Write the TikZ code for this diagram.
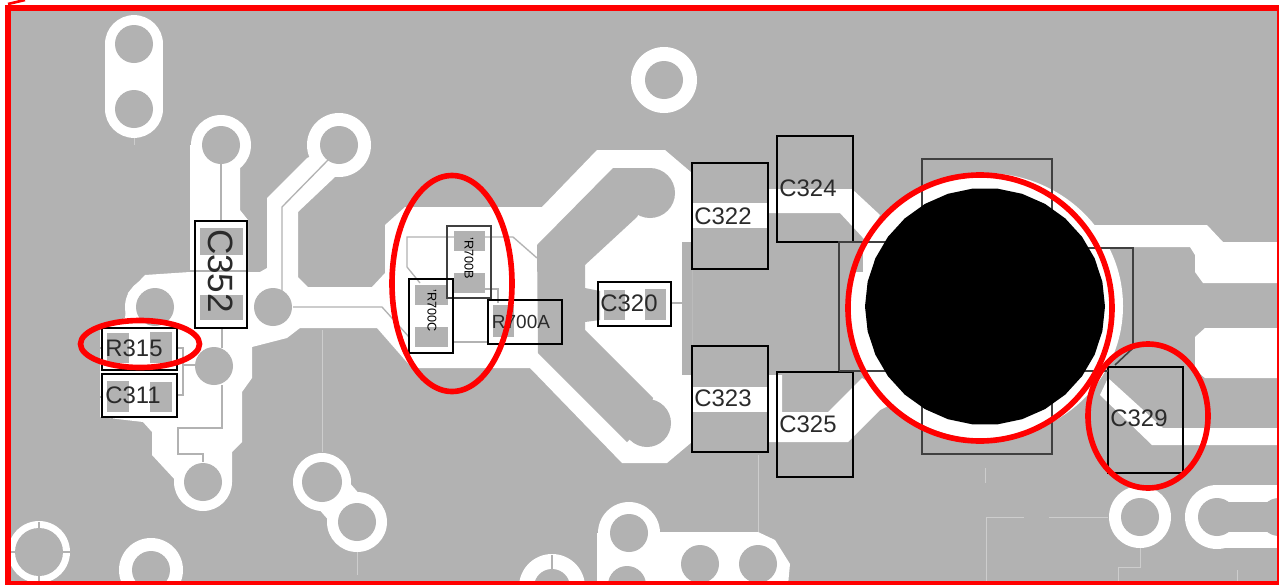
\documentclass[tikz,border=0pt]{standalone}
\usepackage{fontspec}
\setmainfont{Liberation Sans}
\definecolor{pcb}{HTML}{B2B2B2}
\definecolor{seam}{HTML}{CDCDCD}
\definecolor{redm}{HTML}{FF0000}
\definecolor{ink}{HTML}{2A2A2A}
\tikzset{
  hole/.style={fill=pcb,draw=none},
  wire/.style={draw=pcb,line width=0.75pt,fill=none},
  faint/.style={draw=seam,line width=0.55pt,fill=none},
  part/.style={draw=black,line width=1.15pt,fill=none},
  outl/.style={draw=black!75,line width=0.9pt,fill=none},
  ring/.style={draw=redm,line width=3.2pt,fill=none},
  lab/.style={text=ink,inner sep=0pt,font=\fontsize{13.6pt}{15pt}\selectfont},
  labm/.style={text=ink,inner sep=0pt,font=\fontsize{10.8pt}{12pt}\selectfont},
  labs/.style={text=black,inner sep=0pt,rotate=-90,font=\fontsize{7.2pt}{8pt}\selectfont},
  labb/.style={text=ink,inner sep=0pt,rotate=-90,font=\fontsize{20pt}{22pt}\selectfont}
}
\begin{document}
\begin{tikzpicture}[x=0.02cm,y=-0.02cm]
\useasboundingbox (0,0) rectangle (1279,585);
\fill[white] (0,0) rectangle (1279,585);
\fill[pcb] (7,5) rectangle (1278,585);

% top-left slotted pair
\draw[white,line width=32.9pt,line cap=round] (134,44) -- (134,109);
% bottom-left pair
\draw[white,line width=23pt] (322,482) -- (357,522);

% main copper
\fill[white] (128,293) -- (145,275) -- (190,272) -- (190,145) -- (240,145) -- (240,173)
  -- (240,210) -- (248,220) -- (248,272) -- (260,272) -- (267,268) -- (267,198) -- (307,158)
  -- (339,145) -- (335,177) -- (298,212) -- (298,277) -- (308,287) -- (372,287) -- (385,273)
  -- (385,225) -- (405,207) -- (542,207) -- (597,150) -- (665,150) -- (692,173)
  -- (692,442) -- (667,463) -- (622,463) -- (530,368) -- (412,368) -- (377,328) -- (300,328)
  -- (287,338) -- (252,347) -- (252,378) -- (242,392) -- (242,442) -- (232,452) -- (232,482)
  -- (203,500) -- (177,482) -- (152,455) -- (152,432) -- (143,422) -- (100,417) -- (100,330)
  -- (125,318) -- cycle;

% bands to the capacitors
\fill[white] (692,203) rectangle (768,228);
\fill[white] (692,387) rectangle (768,412);
\fill[white] (768,205) -- (768,189) -- (852,189) -- (880,215) -- (865,240) -- (840,213) -- (768,213) -- cycle;
\fill[white] (768,375) -- (782,375) -- (782,412) -- (828,412) -- (862,378) -- (900,400) -- (880,410) -- (848,442) -- (768,442) -- cycle;

% right-hand copper
\fill[white] (1085,225) -- (1207,225) -- (1223,242) -- (1277,242) -- (1277,283) -- (1203,283) -- (1195,272) -- (1195,255) -- (1190,247) -- (1085,247) -- cycle;
\fill[white] (1205,328) -- (1277,328) -- (1277,378) -- (1205,378) -- (1195,370) -- (1195,337) -- cycle;
\fill[white] (1108,378) -- (1163,428) -- (1277,428) -- (1277,445) -- (1152,445) -- (1100,395) -- cycle;

% bottom copper
\fill[white] (597,585) -- (597,533) -- (629,533) -- (659,532) -- (758,532) -- (775,540) -- (790,564) -- (788,585) -- cycle;
\fill[white] (1217,485) rectangle (1277,548);

% annular rings
\foreach \cx/\cy/\r in {221/145/30,339/145/32,155/307/30,273/307/28,214/366/28,203/482/29,
    39/552/31,151/570/32,322/482/29,357/522/30,664/80/33,629/533/31,552/587/33,1140/517/31,1217/517/32}
  \fill[white] (\cx,\cy) circle[radius=\r];

% grey fingers and block
\fill[pcb] (537,245) -- (613,168) -- (650,168) -- (650,193) -- (637,217) -- (585,265) -- (585,288)
  -- (600,291) -- (600,320) -- (585,322) -- (585,330) -- (653,398) -- (647,423) -- (627,442) -- (538,353) -- cycle;
\fill[pcb] (650,193) circle[radius=25];
\fill[pcb] (647,423) circle[radius=24];
\fill[pcb] (682,242) rectangle (692,375);

% white halo of the hole
\fill[white] (985,306) ellipse[x radius=138,y radius=133];
\fill[pcb] (839,242) rectangle (863,272);

% thin traces
\draw[wire] (221,163) -- (221,221);
\draw[wire] (188,271) -- (248,271);
\draw[wire] (328,160) -- (282,207) -- (282,295);
\draw[wire] (293,307) -- (382,307) -- (409,337);
\draw[wire] (222,328) -- (222,348);
\draw[wire] (222,385) -- (222,428) -- (178,428) -- (178,454) -- (203,454) -- (203,462);
\draw[wire] (177,348) -- (183,348) -- (183,395) -- (177,395);
\draw[wire] (183,365) -- (197,365);
\draw[wire] (93,348) -- (102,348);
\draw[wire] (95,397) -- (102,397);
\draw[wire] (112,417) -- (112,423);
\draw[wire] (420,283) -- (407,267) -- (407,237) -- (513,237) -- (537,258);
\draw[wire] (453,289) -- (498,289) -- (498,303);
\draw[wire] (453,342) -- (488,342);
\draw[wire] (671,303) -- (682,303);
\draw[wire] (39,522) -- (39,528);
\draw[wire] (39,576) -- (39,583);
\draw[wire] (9,552) -- (15,552);
\draw[wire] (63,552) -- (70,552);
\draw[wire] (552,555) -- (552,570);
\draw[wire] (1172,517) -- (1185,517);

% faint seams on the ground
\draw[faint] (322,330) -- (322,452);
\draw[faint] (357,552) -- (357,575);
\draw[faint] (134,138) -- (134,145);
\draw[faint] (758,455) -- (758,532);
\draw[faint] (985,468) -- (985,483);
\draw[faint] (1024,517) -- (986,517) -- (986,583);
\draw[faint] (1049,517) -- (1108,517);
\draw[faint] (1140,548) -- (1140,567) -- (1118,567) -- (1118,583);
\draw[faint] (1237,570) -- (1237,583);

% via holes
\foreach \cx/\cy/\r in {134/44/19,134/109/19,221/145/19,339/145/19,155/307/19,273/307/19,214/366/19,203/482/19,
    39/552/24,151/570/19,322/482/20,357/522/19,664/80/19,629/533/19,627/585/19,700/564/19,758/564/19,
    552/587/18,1140/517/19,1217/517/19,1279/517/19}
  \fill[hole] (\cx,\cy) circle[radius=\r];
\fill[hole] (1217,502) rectangle (1278,532);

% pads
\foreach \xa/\ya/\xb/\yb in {200/228/243/255,200/295/243/320,107/333/129/363,150/332/172/363,
    107/381/129/412,150/382/172/412,454/231/485/251,454/273/485/293,415/285/448/305,415/327/448/347,
    493/305/514/337,604/290/625/320,645/289/666/320}
  \fill[hole] (\xa,\ya) rectangle (\xb,\yb);

% part outlines
\draw[part] (195,221) rectangle (247,328);
\draw[part] (102,328) rectangle (177,370);
\draw[part] (102,374) rectangle (177,417);
\draw[outl] (447,226) rectangle (491,298);
\draw[part] (409,279) rectangle (453,353);
\draw[part] (488,300) rectangle (562,344);
\draw[part] (598,282) rectangle (671,326);
\draw[part] (692,163) rectangle (768,269);
\draw[part] (692,346) rectangle (768,452);
\draw[part] (777,136) rectangle (853,242);
\draw[part] (777,372) rectangle (853,477);
\draw[part] (1108,367) rectangle (1183,473);
\draw[outl] (922,159) rectangle (1052,454);
\draw[outl] (839,371) -- (839,242) -- (985,242);
\draw[outl] (985,248) -- (1133,248) -- (1133,348) -- (1115,365);
\draw[outl] (839,371) -- (1108,371);

% labels
\node[labb] (c352) at (221,271) {C352};
\node[lab] (r315) at (134,348) {R315};
\node[lab] (c311) at (133,395) {C311};
\node[labs] (r700b) at (469,258) {'R700B};
\node[labs] (r700c) at (432,311) {'R700C};
\node[labm] (r700a) at (521,322) {R700A};
\node[lab] (c320) at (629,303) {C320};
\node[lab] (c322) at (723,216) {C322};
\node[lab] (c323) at (723,398) {C323};
\node[lab] (c324) at (808,188) {C324};
\node[lab] (c325) at (808,424) {C325};
\node[lab] (c329) at (1139,418) {C329};

% the black blob
\fill[black] plot[domain=0:360,samples=31,variable=\t] ({985+120*cos(\t)},{306.5+118.5*sin(\t)}) -- cycle;

% red marks
\draw[ring] (140,344) ellipse[x radius=59.5,y radius=23.5];
\draw[ring] (452,283.5) ellipse[x radius=60,y radius=108];
\draw[ring] (980,308) ellipse[x radius=132,y radius=133];
\draw[ring] (1148,416) ellipse[x radius=60,y radius=72];
\draw[redm,line width=3.2pt] (8,585) -- (8,8) -- (1279,8);
\draw[redm,line width=2.6pt] (8,583.5) -- (1279,583.5);
\draw[redm,line width=1.2pt] (1278,8) -- (1278,585);
\draw[redm,line width=1.5pt] (8,4) -- (25,0);
\end{tikzpicture}
\end{document}
